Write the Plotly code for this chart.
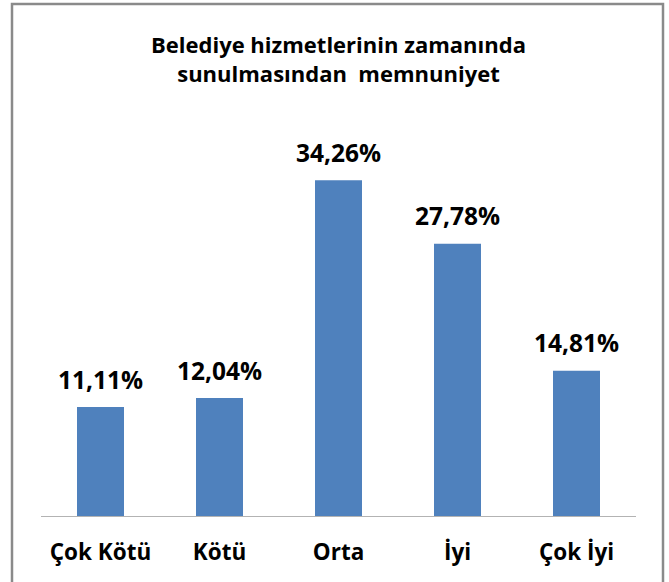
import plotly.graph_objects as go

categories = ["Çok Kötü", "Kötü", "Orta", "İyi", "Çok İyi"]
values = [11.11, 12.04, 34.26, 27.78, 14.81]
title_lines = ["Belediye hizmetlerinin zamanında", "sunulmasından  memnuniyet"]

FONT = "Open Sans"
W, H = 669, 582
# plot area in page pixels: x 41..636, y 124..516
L, R, T, B = 41, W - 636, 124, H - 516
pw, ph = W - L - R, H - T - B

def px_to_paper_x(px):
    return (px - L) / pw

def px_to_paper_y(py):
    return (H - B - py) / ph

fig = go.Figure(go.Bar(
    x=categories, y=values,
    marker=dict(color="#4F81BD", line=dict(width=0)),
    hoverinfo="x+y",
))

label_annotations = [
    dict(
        x=c, y=v, xref="x", yref="y",
        text="<b>" + f"{v:.2f}".replace(".", ",") + "%</b>",
        showarrow=False, yanchor="middle", xanchor="center", yshift=28,
        font=dict(family=FONT, size=24.5, color="#000000"),
    )
    for c, v in zip(categories, values)
]

fig.update_layout(
    width=W, height=H,
    margin=dict(l=L, r=R, t=T, b=B),
    paper_bgcolor="white", plot_bgcolor="white",
    separators=",.",
    bargap=0.605,
    showlegend=False,
    font=dict(family=FONT, color="#000000"),
    annotations=[dict(
        text="<b>" + "<br>".join(title_lines) + "</b>",
        xref="paper", yref="paper",
        x=0.5, y=px_to_paper_y(59), xanchor="center", yanchor="middle",
        showarrow=False, font=dict(family=FONT, size=22, color="#000000"),
    )] + label_annotations,
    shapes=[dict(
        type="rect", xref="paper", yref="paper",
        x0=px_to_paper_x(12), x1=px_to_paper_x(663),
        y0=px_to_paper_y(600), y1=px_to_paper_y(4),
        line=dict(color="#8a8a8a", width=2.5), fillcolor="rgba(0,0,0,0)",
        layer="below",
    )],
)
fig.update_xaxes(
    showline=True, linecolor="#b3b3b3", linewidth=1.2,
    showgrid=False, ticks="", ticklabelstandoff=16,
    tickfont=dict(family=FONT, size=22.5, color="#000000"),
    tickprefix="<b>", ticksuffix="</b>",
)
fig.update_yaxes(visible=False, range=[0, 40], showgrid=False)

fig.write_html(
    "out.html",
    config={"displayModeBar": False},
    post_script="document.body.style.margin='0';document.body.style.overflow='hidden';",
)
